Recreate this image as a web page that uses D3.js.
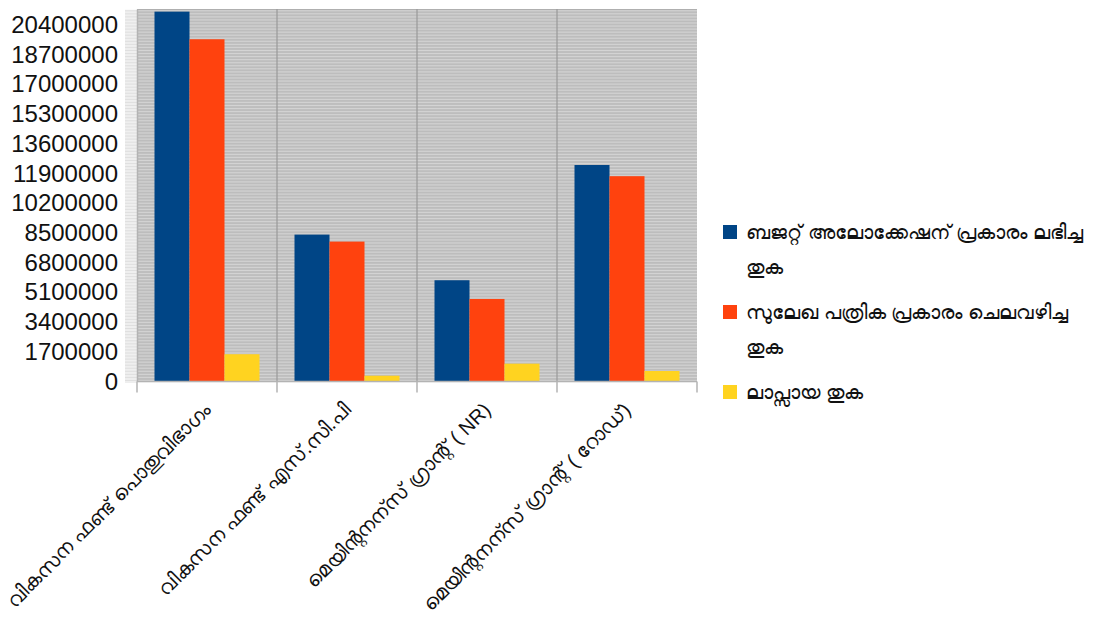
<!DOCTYPE html>
<html>
<head>
<meta charset="utf-8">
<script src="https://cdn.jsdelivr.net/npm/d3@7"></script>
<style>
  body { margin: 0; background: #fff; }
  text { font-family: "Liberation Sans", "DejaVu Sans", sans-serif; }
</style>
</head>
<body>
<svg id="chart" width="1097" height="618"></svg>
<script>
// data
const categories = [
  "വികസന ഫണ്ട് പൊതുവിഭാഗം",
  "വികസന ഫണ്ട് എസ്.സി.പി",
  "മെയിന്റനന്സ് ഗ്രാന്റ് ( NR)",
  "മെയിന്റനന്സ് ഗ്രാന്റ് ( റോഡ്)"
];
const seriesNames = [
  "ബജറ്റ് അലോക്കേഷന് പ്രകാരം ലഭിച്ച തുക",
  "സുലേഖ പത്രിക പ്രകാരം ചെലവഴിച്ച തുക",
  "ലാപ്സായ തുക"
];
const budget = [21150000, 8400000, 5790000, 12380000];
const spent = [19570000, 8000000, 4720000, 11740000];
const lapsed = [1560000, 330000, 1020000, 600000];
const yTicks = [0, 1700000, 3400000, 5100000, 6800000, 8500000, 10200000,
  11900000, 13600000, 15300000, 17000000, 18700000, 20400000];

const colors = ["#004586", "#ff420e", "#ffd320"];
const series = [budget, spent, lapsed];

const margin = { top: 9, left: 137 };
const width = 560, height = 372.5;

const svg = d3.select("#chart");
const g = svg.append("g").attr("transform", `translate(${margin.left},${margin.top})`);

const x = d3.scaleBand().domain(categories).range([0, width]).paddingInner(0).paddingOuter(0);
const x1 = d3.scaleBand().domain([0, 1, 2]).range([0, x.bandwidth()]).paddingOuter(0.5);
const y = d3.scaleLinear().domain([0, 21300000]).range([height, 0]);

// plot background
g.append("rect").attr("width", width).attr("height", height).attr("fill", "#a9a9a9");

// dense minor gridlines
const minor = d3.range(0, 21300000, 85000);
g.append("g")
  .call(d3.axisLeft(y).tickValues(minor).tickSize(-width).tickFormat(""))
  .call(s => s.select(".domain").remove())
  .call(s => s.selectAll("line").attr("stroke", "#f2f2f2").attr("stroke-width", 0.6));

// minor ticks outside the axis (lighter strip)
g.append("g")
  .call(d3.axisLeft(y).tickValues(minor).tickSize(12).tickFormat(""))
  .call(s => s.select(".domain").remove())
  .call(s => s.selectAll("line").attr("stroke", "#c4c4c4").attr("stroke-width", 0.55));

// vertical gridlines at category borders
g.append("g").selectAll("line")
  .data(categories.slice(1))
  .join("line")
  .attr("x1", d => x(d)).attr("x2", d => x(d))
  .attr("y1", 0).attr("y2", height)
  .attr("stroke", "#999").attr("stroke-width", 1.2);

// bars
categories.forEach((c, i) => {
  series.forEach((s, k) => {
    g.append("rect")
      .attr("x", x(c) + x1(k))
      .attr("y", y(s[i]))
      .attr("width", x1.bandwidth())
      .attr("height", height - y(s[i]))
      .attr("fill", colors[k]);
  });
});

// y axis
const yAxis = g.append("g")
  .call(d3.axisLeft(y).tickValues(yTicks).tickSize(0).tickPadding(19).tickFormat(d3.format("d")));
yAxis.select(".domain").attr("stroke", "#b3b3b3").attr("stroke-width", 1.5);
yAxis.selectAll("text").attr("font-size", 24).attr("fill", "#111")
  .attr("font-family", "Liberation Sans, sans-serif");

// x axis
const xAxisG = g.append("g").attr("transform", `translate(0,${height})`);
xAxisG.append("line").attr("x1", 0).attr("x2", width).attr("stroke", "#b3b3b3").attr("stroke-width", 1.5);
xAxisG.selectAll(".tk")
  .data(d3.range(categories.length + 1))
  .join("line")
  .attr("x1", d => d * x.bandwidth()).attr("x2", d => d * x.bandwidth())
  .attr("y1", 0).attr("y2", 11)
  .attr("stroke", "#b3b3b3").attr("stroke-width", 1.5);

xAxisG.selectAll(".lbl")
  .data(categories)
  .join("text")
  .attr("transform", d => `translate(${x(d) + x.bandwidth() / 2 - 5},${20}) rotate(-45)`)
  .attr("text-anchor", "end")
  .attr("dy", "0.7em")
  .attr("font-size", 20)
  .attr("fill", "#111")
  .text(d => d);

// legend
const legendItems = [
  { lines: ["ബജറ്റ് അലോക്കേഷന് പ്രകാരം ലഭിച്ച", "തുക"], y: 232 },
  { lines: ["സുലേഖ പത്രിക പ്രകാരം ചെലവഴിച്ച", "തുക"], y: 312 },
  { lines: ["ലാപ്സായ തുക"], y: 392 }
];
const legend = svg.append("g");
legendItems.forEach((item, k) => {
  legend.append("rect")
    .attr("x", 723).attr("y", item.y - 7)
    .attr("width", 14).attr("height", 14)
    .attr("fill", colors[k]);
  item.lines.forEach((t, j) => {
    legend.append("text")
      .attr("x", 746).attr("y", item.y + j * 35)
      .attr("dy", "0.35em")
      .attr("font-size", 20)
      .attr("fill", "#111")
      .text(t);
  });
});
</script>
</body>
</html>
